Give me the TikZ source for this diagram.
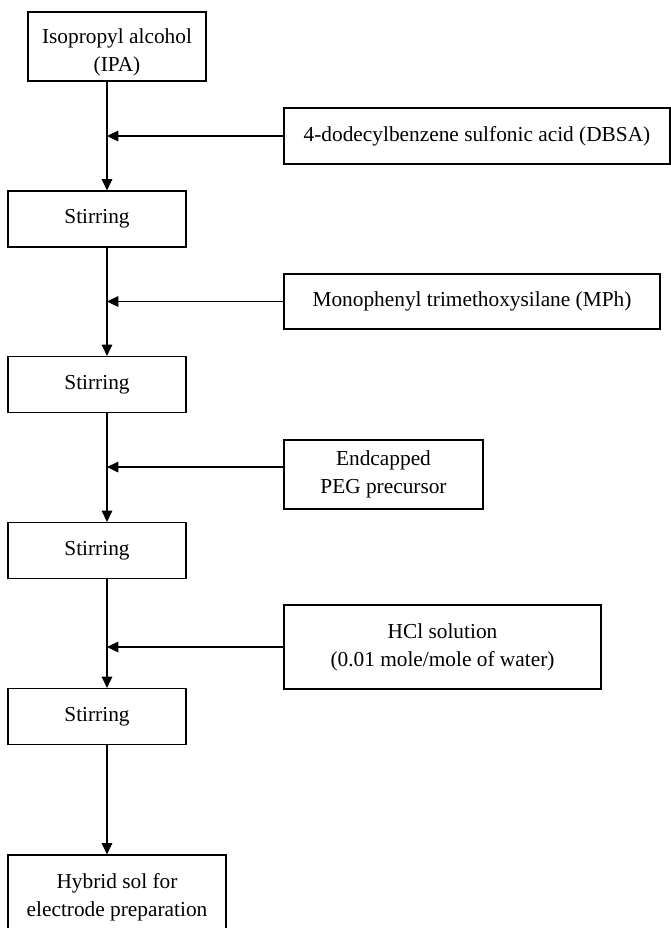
\documentclass[tikz,border=0pt]{standalone}
\usepackage{fontspec}
\setmainfont{Liberation Serif}
\usetikzlibrary{arrows.meta}

\begin{document}
\begin{tikzpicture}[x=0.75pt,y=-0.75pt,
    >={Triangle[length=8.5pt,width=8pt]},
    box/.style={draw, line width=0.9pt, align=center, inner sep=0pt,
        font=\fontsize{16pt}{21pt}\selectfont},
    stirbox/.style={box, minimum width=133.5pt, minimum height=42pt},
    flow/.style={line width=0.9pt}]
    \useasboundingbox (0,0) rectangle (671,928);

    % 主线位置
    \coordinate (spine) at (107,0);

    % 左列：起点、搅拌、产物
    \node[box, minimum width=133.5pt, minimum height=51.75pt] (ipa) at (117,46.5) {\rule{0pt}{20pt}Isopropyl alcohol\\(IPA)};
    \node[stirbox] (stir1) at (97,219) {Stirring};
    \node[stirbox] (stir2) at (97,384.5) {Stirring};
    \node[stirbox] (stir3) at (97,550.5) {Stirring};
    \node[stirbox] (stir4) at (97,716.5) {Stirring};
    \node[box, minimum width=163.5pt, minimum height=63.75pt] (sol) at (117,897.5) {Hybrid sol for\\electrode preparation};

    % 右列：加入的原料
    \node[box, minimum width=289.5pt, minimum height=42pt] (dbsa) at (477,136) {4-dodecylbenzene sulfonic acid (DBSA)};
    \node[box, minimum width=282pt, minimum height=41.25pt] (mph) at (472,301.5) {Monophenyl trimethoxysilane (MPh)};
    \node[box, minimum width=149.25pt, minimum height=51.75pt] (peg) at (383.5,474.5) {Endcapped\\PEG precursor};
    \node[box, minimum width=237.75pt, minimum height=63pt] (hcl) at (442.5,647) {HCl solution\\(0.01 mole/mole of water)};

    % 主线箭头
    \draw[flow, ->] (ipa.south -| spine) -- (stir1.north -| spine);
    \draw[flow, ->] (stir1.south -| spine) -- (stir2.north -| spine);
    \draw[flow, ->] (stir2.south -| spine) -- (stir3.north -| spine);
    \draw[flow, ->] (stir3.south -| spine) -- (stir4.north -| spine);
    \draw[flow, ->] (stir4.south -| spine) -- (sol.north -| spine);

    % 加料箭头
    \draw[flow, ->] (dbsa.west) -- (dbsa.west -| spine);
    \draw[flow, ->] (mph.west) -- (mph.west -| spine);
    \draw[flow, ->] ([yshift=5.6pt]peg.west) -- ([yshift=5.6pt]peg.west -| spine);
    \draw[flow, ->] (hcl.west) -- (hcl.west -| spine);
\end{tikzpicture}
\end{document}
